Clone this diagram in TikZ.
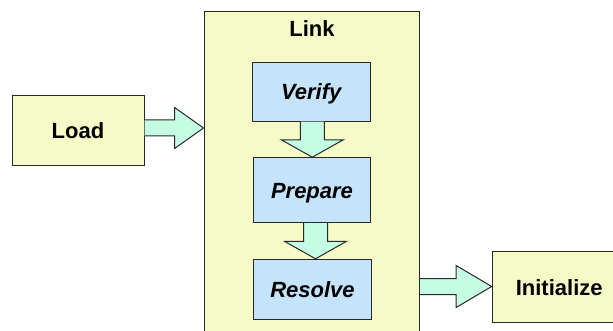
\documentclass[tikz,border=0pt]{standalone}
\usepackage{fontspec}
\setmainfont{Liberation Sans}
\usetikzlibrary{calc}
\definecolor{yelfill}{RGB}{246,250,198}
\definecolor{bluefill}{RGB}{198,227,252}
\definecolor{mintfill}{RGB}{196,252,228}
\definecolor{edge}{RGB}{40,40,40}
\tikzset{
  box/.style={draw=edge, line width=1pt, inner sep=0pt, anchor=center,
    text height=15.75pt, text depth=0pt,
    font=\fontsize{22}{26}\selectfont\bfseries},
  outerbox/.style={box, fill=yelfill},
  innerbox/.style={box, fill=bluefill, font=\fontsize{22}{26}\selectfont\bfseries\itshape},
  label/.style={inner sep=0pt, text height=15.75pt, text depth=0pt,
    font=\fontsize{22}{26}\selectfont\bfseries},
  arr/.style={draw=edge, line width=1pt, fill=mintfill, line join=miter},
}
% horizontal block arrow: #1 start (same y as tip), #2 tip, #3 head length, #4 head half-width
\newcommand\hblockarrow[4]{%
  \filldraw[arr] ($(#1)+(0,-8)$) -- ($(#2)+(-#3,-8)$) -- ($(#2)+(-#3,-#4)$) -- (#2)
    -- ($(#2)+(-#3,#4)$) -- ($(#2)+(-#3,8)$) -- ($(#1)+(0,8)$);}
% vertical block arrow (downwards): #1 start, #2 tip, #3 head length
\newcommand\vblockarrow[3]{%
  \filldraw[arr] ($(#1)+(-12,0)$) -- ($(#2)+(-12,-#3)$) -- ($(#2)+(-31,-#3)$) -- (#2)
    -- ($(#2)+(31,-#3)$) -- ($(#2)+(12,-#3)$) -- ($(#1)+(12,0)$);}
\begin{document}
\begin{tikzpicture}[x=1pt,y=-1pt]
\useasboundingbox (0,0) rectangle (613,331);
\clip (0,0) rectangle (613,331);
\fill[white] (0,0) rectangle (613,331);
% outer boxes
\node[outerbox, minimum width=132pt, minimum height=70pt] (load) at (78,131) {Load};
\node[outerbox, minimum width=215.5pt, minimum height=335pt] (link) at (311.8,179.5) {};
\node[label] (linklabel) at (312,28.3) {Link};
\node[outerbox, minimum width=134pt, minimum height=71pt] (init) at (559.2,287.2) {Initialize};
% inner boxes
\node[innerbox, minimum width=118pt, minimum height=59pt] (verify) at (311.2,91.7) {Verify};
\node[innerbox, minimum width=117.5pt, minimum height=65pt] (prepare) at (312,190.2) {Prepare};
\node[innerbox, minimum width=118.5pt, minimum height=60pt] (resolve) at (312.5,289.3) {Resolve};
% arrows
\coordinate (t1) at (link.west |- 0,128);
\coordinate (s1) at (load.east |- t1);
\hblockarrow{s1}{t1}{29}{20.5}
\coordinate (t2) at (init.west |- 0,286.5);
\coordinate (s2) at (link.east |- t2);
\hblockarrow{s2}{t2}{35.6}{21}
\coordinate (v1) at ([xshift=0.3pt]prepare.north);
\coordinate (u1) at (verify.south -| v1);
\vblockarrow{u1}{v1}{17.4}
\coordinate (v2) at ([xshift=3pt]resolve.north);
\coordinate (u2) at (prepare.south -| v2);
\vblockarrow{u2}{v2}{17.5}
\end{tikzpicture}
\end{document}
